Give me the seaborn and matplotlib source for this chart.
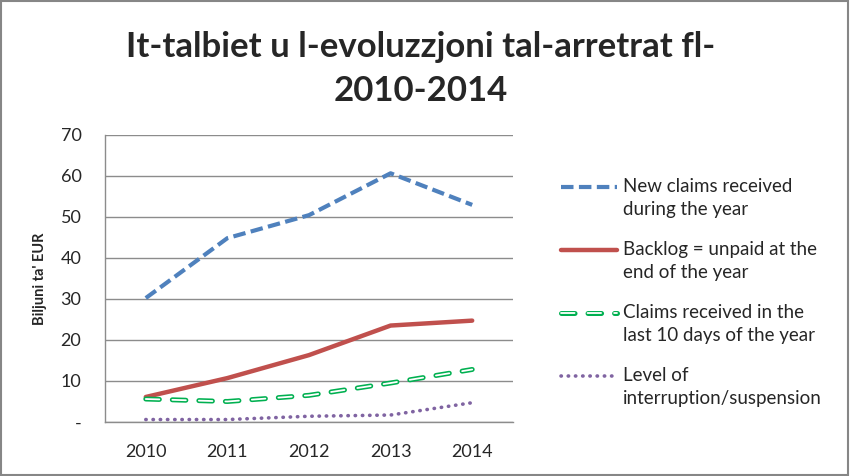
import matplotlib
matplotlib.use("Agg")
import matplotlib.pyplot as plt
import matplotlib.patheffects as pe
from matplotlib.patches import Rectangle
import seaborn as sns
import pandas as pd

years = [2010, 2011, 2012, 2013, 2014]
new_claims = [30.2, 44.8, 50.4, 60.6, 52.9]
backlog = [6.1, 10.7, 16.3, 23.5, 24.7]
last10 = [5.6, 5.0, 6.5, 9.5, 12.8]
interruption = [0.6, 0.6, 1.4, 1.7, 4.7]
labels = ["New claims received\nduring the year",
          "Backlog = unpaid at the\nend of the year",
          "Claims received in the\nlast 10 days of the year",
          "Level of\ninterruption/suspension"]
yticks = [0, 10, 20, 30, 40, 50, 60, 70]
yticklabels = ["-", "10", "20", "30", "40", "50", "60", "70"]

sns.set_theme(style="white")
plt.rcParams['font.family'] = ['Lato', 'DejaVu Sans']

fig = plt.figure(figsize=(8.5, 4.76), dpi=100)
ax = fig.add_axes([105/850, 54/476, 408/850, 287.3/476])

df = pd.DataFrame({"year": years, "a": new_claims, "b": backlog, "c": last10, "d": interruption})

sns.lineplot(data=df, x="year", y="a", ax=ax, color="#4f81bd", lw=3,
             linestyle=(0, (3, 1.3)), label=labels[0])
sns.lineplot(data=df, x="year", y="b", ax=ax, color="#c0504d", lw=3.2,
             label=labels[1])
sns.lineplot(data=df, x="year", y="c", ax=ax, color="white", lw=1.3,
             linestyle=(0, (7.5, 7.2)), label=labels[2],
             path_effects=[pe.Stroke(linewidth=3.6, foreground="#00b050"), pe.Normal()])
sns.lineplot(data=df, x="year", y="d", ax=ax, color="#8064a2", lw=2.6,
             linestyle=(0, (0.1, 1.9)), label=labels[3])
for l in ax.lines[2:]:
    l.set_dash_capstyle("round")

ax.set_xlim(2009.5, 2014.5)
ax.set_ylim(0, 70)
ax.set_xticks(years)
ax.set_xticklabels([str(y) for y in years], fontsize=13)
ax.set_yticks(yticks)
ax.set_yticklabels(yticklabels, fontsize=13)
ax.tick_params(axis="x", length=0, pad=16)
ax.tick_params(axis="y", length=0, pad=17)
ax.yaxis.grid(True, color="#8c8c8c", lw=1)
ax.set_axisbelow(True)
for s in ["top", "right"]:
    ax.spines[s].set_visible(False)
for s in ["left", "bottom"]:
    ax.spines[s].set_color("#8c8c8c")
    ax.spines[s].set_linewidth(1)
ax.set_xlabel("")
ax.set_ylabel("Biljuni ta' EUR", fontsize=10.5, fontweight="bold", labelpad=10)

leg = ax.legend(loc="upper left", frameon=False, fontsize=13.5, handlelength=3.0,
                handletextpad=0.3, labelspacing=1.21, borderaxespad=0, borderpad=0)
for t in leg.get_texts():
    t.set_linespacing(1.45)
leg.set_bbox_to_anchor((561/850, (476-178)/476), transform=fig.transFigure)
for h in leg.legend_handles:
    yd = h.get_ydata()
    h.set_ydata([v + 8.3 for v in yd])

fig.text(0.495, 0.935, "It-talbiet u l-evoluzzjoni tal-arretrat fl-\n2010-2014",
         ha="center", va="top", fontsize=25, fontweight="bold", linespacing=1.45)

fig.patches.append(Rectangle((0.001, 0.002), 0.997, 0.995, transform=fig.transFigure,
                             fill=False, edgecolor="#868686", lw=1.5))

fig.savefig("out.png", dpi=100)
